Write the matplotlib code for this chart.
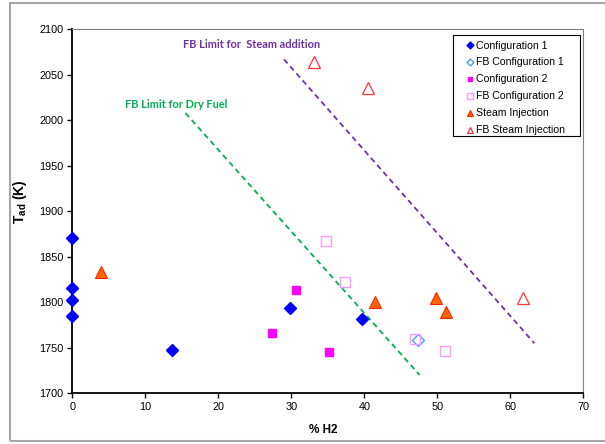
import matplotlib.pyplot as plt
from matplotlib.patches import Rectangle

plt.rcParams["font.family"] = ["Liberation Sans", "DejaVu Sans"]
plt.rcParams["mathtext.fontset"] = "custom"
plt.rcParams["mathtext.rm"] = "Liberation Sans"
plt.rcParams["mathtext.bf"] = "Liberation Sans:bold"

# Configuration 1
cfg1_h2 = [0, 0, 0, 0, 13.6, 29.8, 39.7]
cfg1_t = [1871, 1816, 1803, 1785, 1748, 1794, 1782]
# FB Configuration 1
fb_cfg1_h2 = [47.4]
fb_cfg1_t = [1759]
# Configuration 2
cfg2_h2 = [30.6, 27.3, 35.2]
cfg2_t = [1813, 1766, 1745]
# FB Configuration 2
fb_cfg2_h2 = [34.8, 37.3, 47.0, 51.0]
fb_cfg2_t = [1867, 1822, 1760, 1747]
# Steam Injection
steam_h2 = [3.9, 41.4, 49.8, 51.2]
steam_t = [1833, 1800, 1805, 1789]
# FB Steam Injection
fb_steam_h2 = [33.1, 40.5, 61.8]
fb_steam_t = [2064, 2036, 1805]

# limit lines (start, end)
dry_limit_h2 = [15.5, 47.6]
dry_limit_t = [2008, 1720]
steam_limit_h2 = [29.0, 63.3]
steam_limit_t = [2067, 1755]

fig = plt.figure(figsize=(6.05, 4.44), dpi=100)
fig.patches.append(Rectangle((10 / 605, 3 / 444), 0.99, 438 / 444, transform=fig.transFigure,
                             fill=False, edgecolor="#a6a6a6", linewidth=1.5))
ax = fig.add_axes([0.1195, 0.1142, 0.8446, 0.8198])

kw = dict(linestyle="none", clip_on=False, zorder=3)
ax.plot(cfg1_h2, cfg1_t, "D", color="#0000ff", ms=5.8, mec="#0000ff", label="Configuration 1", **kw)
ax.plot(fb_cfg1_h2, fb_cfg1_t, "D", mfc="none", mec="#3399ff", ms=5.8, mew=0.9, label="FB Configuration 1", **kw)
ax.plot(cfg2_h2, cfg2_t, "s", color="#ff00ff", ms=5.6, label="Configuration 2", **kw)
ax.plot(fb_cfg2_h2, fb_cfg2_t, "s", mfc="none", mec="#ff99ff", ms=7, mew=1.0, label="FB Configuration 2", **kw)
ax.plot(steam_h2, steam_t, "^", mfc="#ff6600", mec="#ff2200", ms=8, mew=0.8, label="Steam Injection", **kw)
ax.plot(fb_steam_h2, fb_steam_t, "^", mfc="white", mec="#ff3333", ms=8, mew=0.9, label="FB Steam Injection", **kw)

ax.plot(dry_limit_h2, dry_limit_t, color="#00b050", lw=1.3, dashes=(3, 2.2), zorder=2)
ax.plot(steam_limit_h2, steam_limit_t, color="#7030a0", lw=1.3, dashes=(3, 2.2), zorder=2)

ax.text(24.6, 2083, "FB Limit for  Steam addition", color="#7030a0", fontsize=7.9,
        fontweight="bold", family=["Lato", "DejaVu Sans"], ha="center", va="center")
ax.text(14.3, 2017, "FB Limit for Dry Fuel", color="#00b050", fontsize=7.9,
        fontweight="bold", family=["Lato", "DejaVu Sans"], ha="center", va="center")

ax.set_xlim(0, 70)
ax.set_ylim(1700, 2100)
ax.set_xticks(range(0, 71, 10))
ax.set_yticks(range(1700, 2101, 50))
ax.tick_params(direction="out", length=3.5, width=1, labelsize=7.8, colors="black")
ax.tick_params(axis="both", pad=3)

for side in ["top", "right"]:
    ax.spines[side].set_color("#808080")
    ax.spines[side].set_linewidth(0.8)
for side in ["left", "bottom"]:
    ax.spines[side].set_color("black")
    ax.spines[side].set_linewidth(1.3)

ax.set_xlabel("% H2", fontsize=8.5, fontweight="bold", va="center")
ax.xaxis.set_label_coords((323 - 72.3) / 511, (393.3 - 430) / 364)
ax.set_ylabel(r"$\mathbf{T}_{\mathbf{ad}}$ (K)", fontsize=10, fontweight="bold", va="center")
ax.yaxis.set_label_coords((20.5 - 72.3) / 511, (393.3 - 201.5) / 364)

# legend content without frame, frame drawn separately
leg = ax.legend(loc="upper left", bbox_to_anchor=((466 - 72.3) / 511, (393.3 - 40.5) / 364),
                borderaxespad=0, borderpad=0, fontsize=7.6, markerscale=0.6,
                handlelength=0.8, handletextpad=0.18, labelspacing=0.66, frameon=False)
ax.add_patch(Rectangle(((453 - 72.3) / 511, (393.3 - 135.7) / 364), 127 / 511, 100.7 / 364,
                       transform=ax.transAxes, fill=True, facecolor="white",
                       edgecolor="black", linewidth=0.8, zorder=4))
leg.set_zorder(5)

fig.savefig("out.png", dpi=100)
